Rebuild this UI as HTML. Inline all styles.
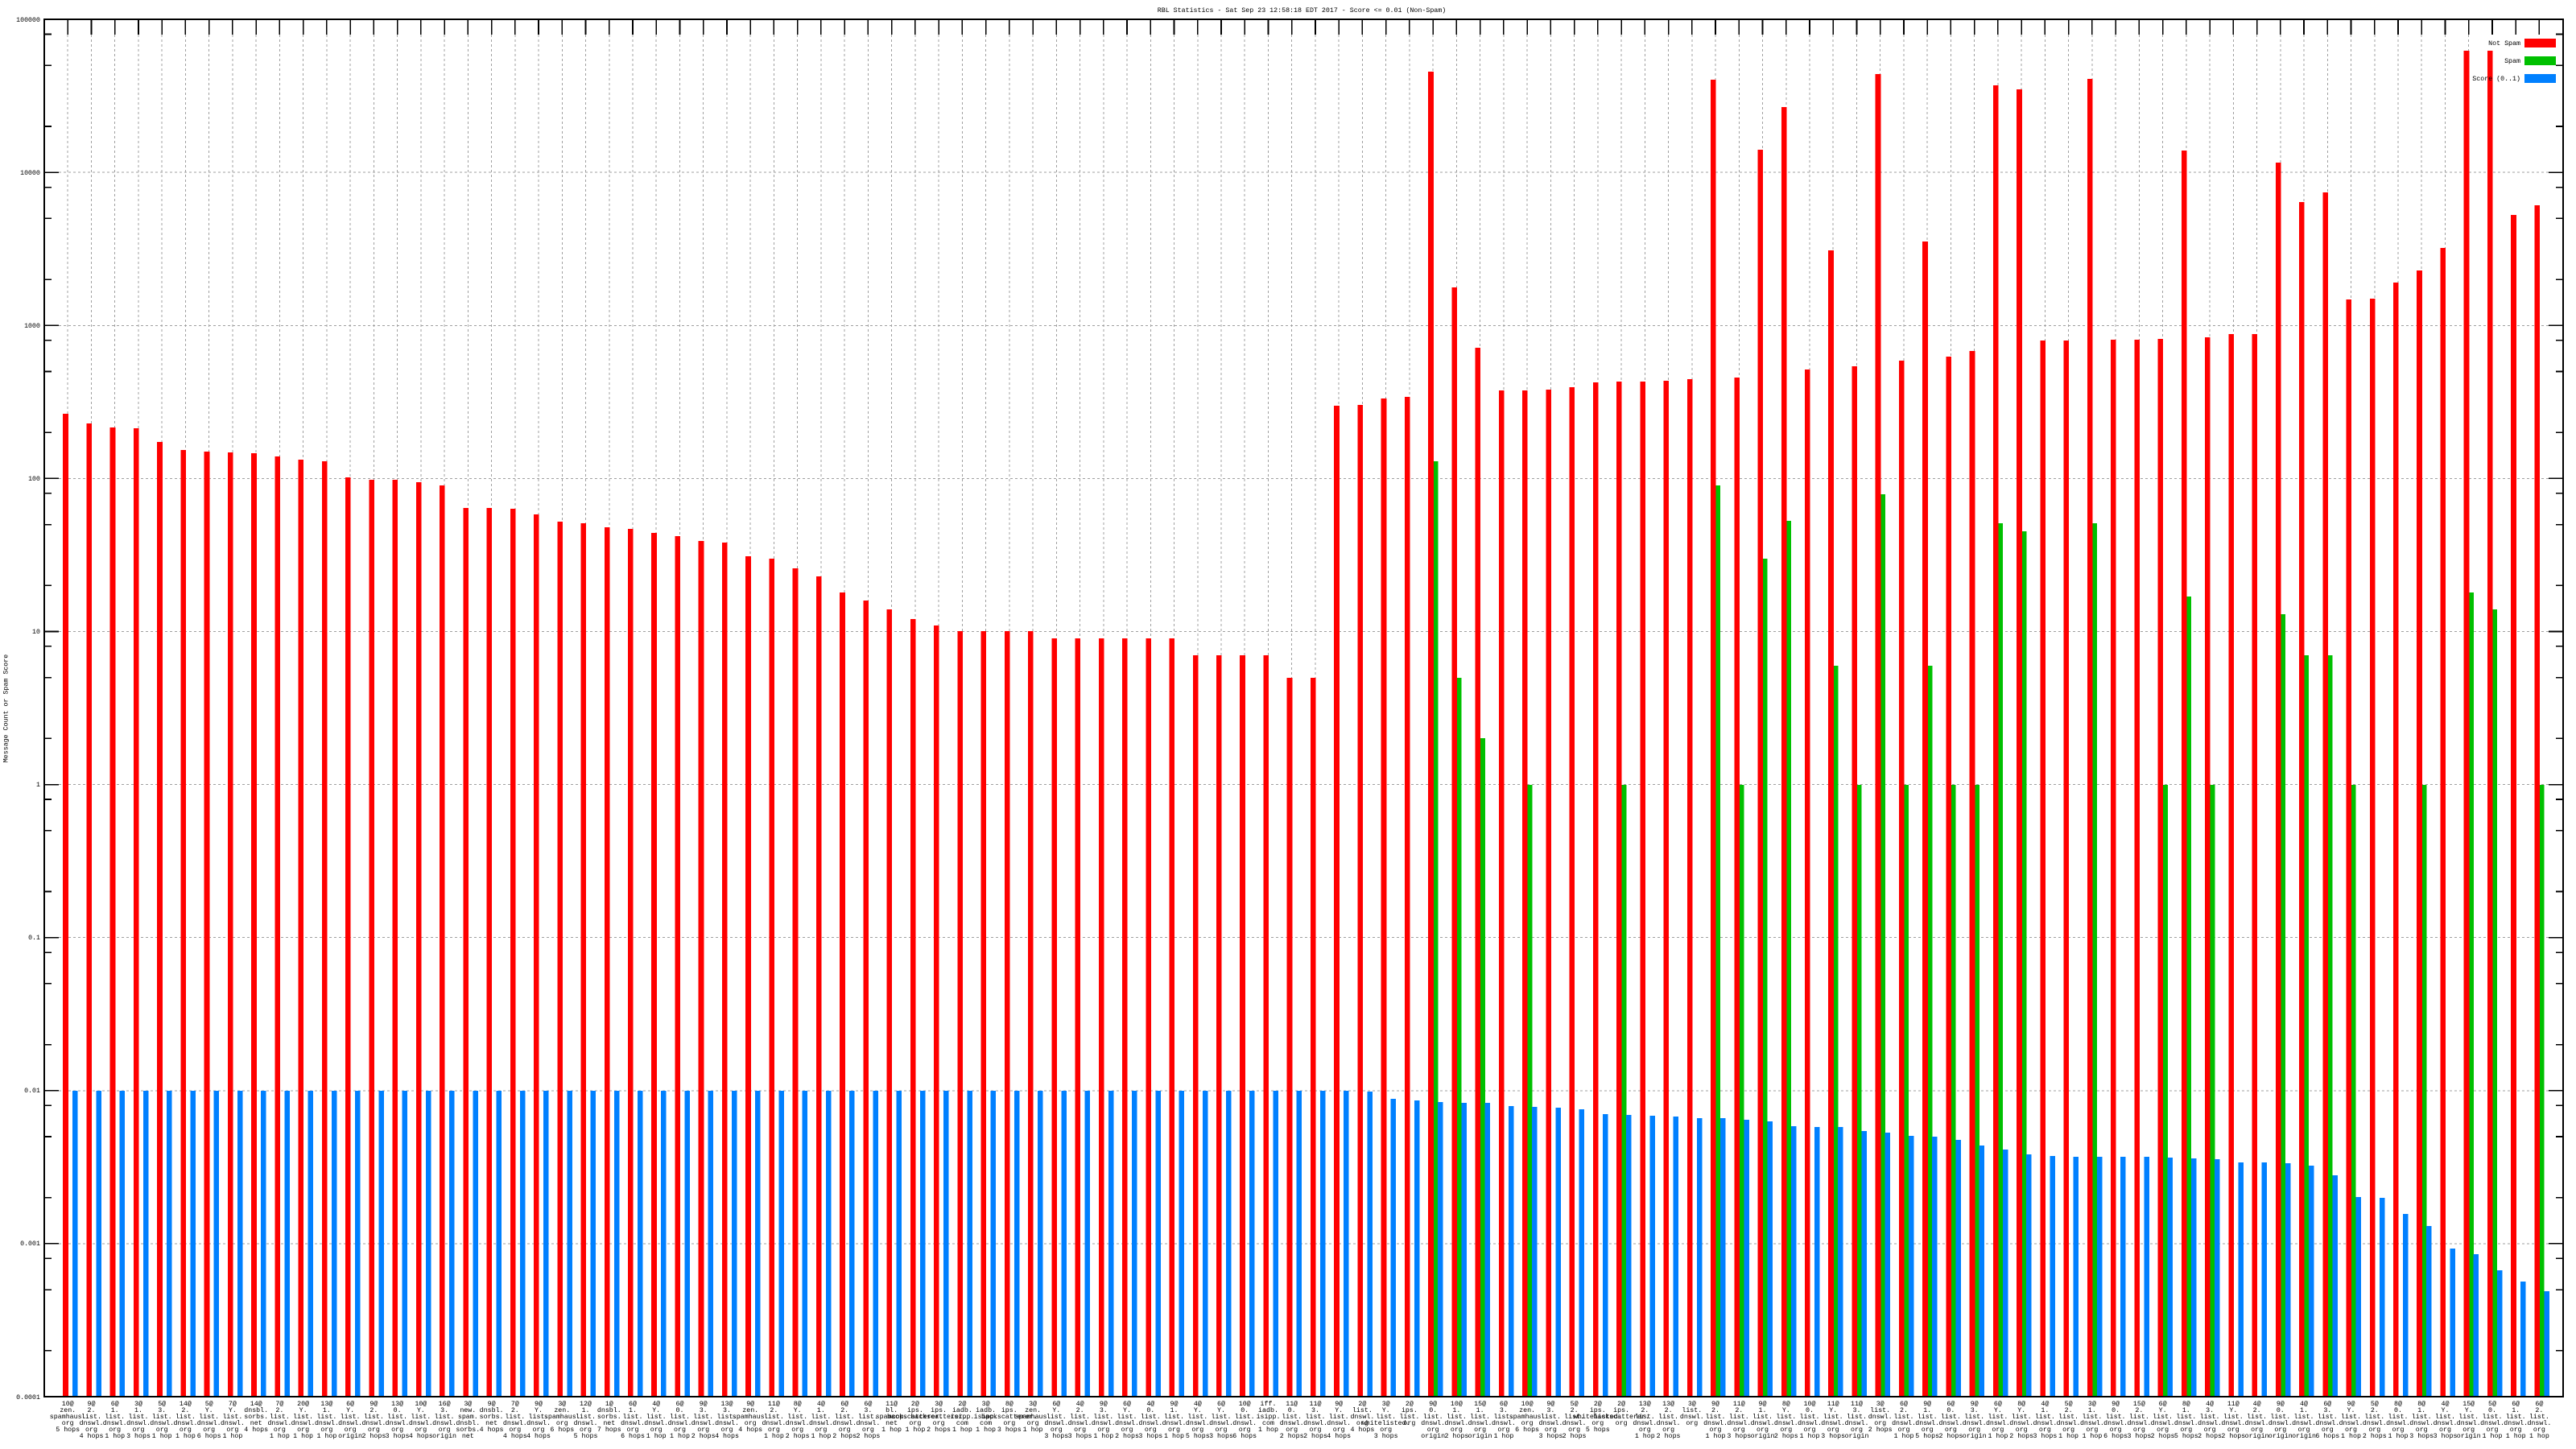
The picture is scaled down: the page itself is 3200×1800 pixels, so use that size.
<!DOCTYPE html>
<html><head><meta charset="utf-8"><style>
html,body{margin:0;padding:0;background:#fff}
svg{display:block}
text{font-family:"Liberation Mono","DejaVu Sans Mono",monospace;font-size:8.3px;fill:#000}
.l{text-anchor:middle}
.yt{text-anchor:end}
</style></head><body>
<svg width="3200" height="1800" viewBox="0 0 3200 1800" xmlns="http://www.w3.org/2000/svg" shape-rendering="crispEdges">
<rect width="3200" height="1800" fill="#fff"/>
<!-- grid -->
<path stroke="#a0a0a0" stroke-width="1" stroke-dasharray="3 3" fill="none" d="M73 214.2H3166M73 404.3H3166M73 594.4H3166M73 784.5H3166M73 974.6H3166M73 1164.7H3166M73 1354.8H3166M73 1544.9H3166"/>
<path stroke="#a0a0a0" stroke-width="1" stroke-dasharray="3 3" fill="none" d="M84.24 43V1735m29.24 -1692V1735m29.24 -1692V1735m29.24 -1692V1735m29.24 -1692V1735m29.24 -1692V1735m29.24 -1692V1735m29.24 -1692V1735m29.24 -1692V1735m29.24 -1692V1735m29.24 -1692V1735m29.24 -1692V1735m29.24 -1692V1735m29.24 -1692V1735m29.24 -1692V1735m29.24 -1692V1735m29.24 -1692V1735m29.24 -1692V1735m29.24 -1692V1735m29.24 -1692V1735m29.24 -1692V1735m29.24 -1692V1735m29.24 -1692V1735m29.24 -1692V1735m29.24 -1692V1735m29.24 -1692V1735m29.24 -1692V1735m29.24 -1692V1735m29.24 -1692V1735m29.24 -1692V1735m29.24 -1692V1735m29.24 -1692V1735m29.24 -1692V1735m29.24 -1692V1735m29.24 -1692V1735m29.24 -1692V1735m29.24 -1692V1735m29.24 -1692V1735m29.24 -1692V1735m29.24 -1692V1735m29.24 -1692V1735m29.24 -1692V1735m29.24 -1692V1735m29.24 -1692V1735m29.24 -1692V1735m29.24 -1692V1735m29.24 -1692V1735m29.24 -1692V1735m29.24 -1692V1735m29.24 -1692V1735m29.24 -1692V1735m29.24 -1692V1735m29.24 -1692V1735m29.24 -1692V1735m29.24 -1692V1735m29.24 -1692V1735m29.24 -1692V1735m29.24 -1692V1735m29.24 -1692V1735m29.24 -1692V1735m29.24 -1692V1735m29.24 -1692V1735m29.24 -1692V1735m29.24 -1692V1735m29.24 -1692V1735m29.24 -1692V1735m29.24 -1692V1735m29.24 -1692V1735m29.24 -1692V1735m29.24 -1692V1735m29.24 -1692V1735m29.24 -1692V1735m29.24 -1692V1735m29.24 -1692V1735m29.24 -1692V1735m29.24 -1692V1735m29.24 -1692V1735m29.24 -1692V1735m29.24 -1692V1735m29.24 -1692V1735m29.24 -1692V1735m29.24 -1692V1735m29.24 -1692V1735m29.24 -1692V1735m29.24 -1692V1735m29.24 -1692V1735m29.24 -1692V1735m29.24 -1692V1735m29.24 -1692V1735m29.24 -1692V1735m29.24 -1692V1735m29.24 -1692V1735m29.24 -1692V1735m29.24 -1692V1735m29.24 -1692V1735m29.24 -1692V1735m29.24 -1692V1735m29.24 -1692V1735m29.24 -1692V1735m29.24 -1692V1735m29.24 -1692V1735m29.24 -1692V1735m29.24 -1692V1735"/>
<!-- red bars -->
<path fill="#ff0000" d="M78.2 514h6.6V1735h-6.6zM107.5 526h6.6V1735h-6.6zM136.7 531h6.6V1735h-6.6zM166 532h6.6V1735h-6.6zM195.2 549h6.6V1735h-6.6zM224.4 559h6.6V1735h-6.6zM253.7 561h6.6V1735h-6.6zM282.9 562h6.6V1735h-6.6zM312.2 563h6.6V1735h-6.6zM341.4 567h6.6V1735h-6.6zM370.6 571h6.6V1735h-6.6zM399.9 573h6.6V1735h-6.6zM429.1 593h6.6V1735h-6.6zM458.4 596h6.6V1735h-6.6zM487.6 596h6.6V1735h-6.6zM516.8 599h6.6V1735h-6.6zM546.1 603h6.6V1735h-6.6zM575.3 631h6.6V1735h-6.6zM604.6 631h6.6V1735h-6.6zM633.8 632h6.6V1735h-6.6zM663 639h6.6V1735h-6.6zM692.3 648h6.6V1735h-6.6zM721.5 650h6.6V1735h-6.6zM750.8 655h6.6V1735h-6.6zM780 657h6.6V1735h-6.6zM809.2 662h6.6V1735h-6.6zM838.5 666h6.6V1735h-6.6zM867.7 672h6.6V1735h-6.6zM897 674h6.6V1735h-6.6zM926.2 691h6.6V1735h-6.6zM955.4 694h6.6V1735h-6.6zM984.7 706h6.6V1735h-6.6zM1013.9 716h6.6V1735h-6.6zM1043.2 736h6.6V1735h-6.6zM1072.4 746h6.6V1735h-6.6zM1101.6 757h6.6V1735h-6.6zM1130.9 769h6.6V1735h-6.6zM1160.1 777h6.6V1735h-6.6zM1189.4 784h6.6V1735h-6.6zM1218.6 784h6.6V1735h-6.6zM1247.8 784h6.6V1735h-6.6zM1277.1 784h6.6V1735h-6.6zM1306.3 793h6.6V1735h-6.6zM1335.6 793h6.6V1735h-6.6zM1364.8 793h6.6V1735h-6.6zM1394 793h6.6V1735h-6.6zM1423.3 793h6.6V1735h-6.6zM1452.5 793h6.6V1735h-6.6zM1481.8 814h6.6V1735h-6.6zM1511 814h6.6V1735h-6.6zM1540.2 814h6.6V1735h-6.6zM1569.5 814h6.6V1735h-6.6zM1598.7 842h6.6V1735h-6.6zM1628 842h6.6V1735h-6.6zM1657.2 504h6.6V1735h-6.6zM1686.4 503h6.6V1735h-6.6zM1715.7 495h6.6V1735h-6.6zM1744.9 493h6.6V1735h-6.6zM1774.2 89h6.6V1735h-6.6zM1803.4 357h6.6V1735h-6.6zM1832.6 432h6.6V1735h-6.6zM1861.9 485h6.6V1735h-6.6zM1891.1 485h6.6V1735h-6.6zM1920.4 484h6.6V1735h-6.6zM1949.6 481h6.6V1735h-6.6zM1978.8 475h6.6V1735h-6.6zM2008.1 474h6.6V1735h-6.6zM2037.3 474h6.6V1735h-6.6zM2066.6 473h6.6V1735h-6.6zM2095.8 471h6.6V1735h-6.6zM2125 99h6.6V1735h-6.6zM2154.3 469h6.6V1735h-6.6zM2183.5 186h6.6V1735h-6.6zM2212.8 133h6.6V1735h-6.6zM2242 459h6.6V1735h-6.6zM2271.2 311h6.6V1735h-6.6zM2300.5 455h6.6V1735h-6.6zM2329.7 92h6.6V1735h-6.6zM2359 448h6.6V1735h-6.6zM2388.2 300h6.6V1735h-6.6zM2417.4 443h6.6V1735h-6.6zM2446.7 436h6.6V1735h-6.6zM2475.9 106h6.6V1735h-6.6zM2505.2 111h6.6V1735h-6.6zM2534.4 423h6.6V1735h-6.6zM2563.6 423h6.6V1735h-6.6zM2592.9 98h6.6V1735h-6.6zM2622.1 422h6.6V1735h-6.6zM2651.4 422h6.6V1735h-6.6zM2680.6 421h6.6V1735h-6.6zM2709.8 187h6.6V1735h-6.6zM2739.1 419h6.6V1735h-6.6zM2768.3 415h6.6V1735h-6.6zM2797.6 415h6.6V1735h-6.6zM2826.8 202h6.6V1735h-6.6zM2856 251h6.6V1735h-6.6zM2885.3 239h6.6V1735h-6.6zM2914.5 372h6.6V1735h-6.6zM2943.8 371h6.6V1735h-6.6zM2973 351h6.6V1735h-6.6zM3002.2 336h6.6V1735h-6.6zM3031.5 308h6.6V1735h-6.6zM3060.7 63h6.6V1735h-6.6zM3090 63h6.6V1735h-6.6zM3119.2 267h6.6V1735h-6.6zM3148.4 255h6.6V1735h-6.6z"/>
<!-- green bars -->
<path fill="#00c000" d="M1780.8 573h5.6V1735h-5.6zM1810 842h5.6V1735h-5.6zM1839.2 917h5.6V1735h-5.6zM1897.7 975h5.6V1735h-5.6zM2014.7 975h5.6V1735h-5.6zM2131.6 603h5.6V1735h-5.6zM2160.9 975h5.6V1735h-5.6zM2190.1 694h5.6V1735h-5.6zM2219.4 647h5.6V1735h-5.6zM2277.8 827h5.6V1735h-5.6zM2307.1 975h5.6V1735h-5.6zM2336.3 614h5.6V1735h-5.6zM2365.6 975h5.6V1735h-5.6zM2394.8 827h5.6V1735h-5.6zM2424 975h5.6V1735h-5.6zM2453.3 975h5.6V1735h-5.6zM2482.5 650h5.6V1735h-5.6zM2511.8 660h5.6V1735h-5.6zM2599.5 650h5.6V1735h-5.6zM2687.2 975h5.6V1735h-5.6zM2716.4 741h5.6V1735h-5.6zM2745.7 975h5.6V1735h-5.6zM2833.4 763h5.6V1735h-5.6zM2862.6 814h5.6V1735h-5.6zM2891.9 814h5.6V1735h-5.6zM2921.1 975h5.6V1735h-5.6zM3008.8 975h5.6V1735h-5.6zM3067.3 736h5.6V1735h-5.6zM3096.6 757h5.6V1735h-5.6zM3155 975h5.6V1735h-5.6z"/>
<!-- blue bars -->
<path fill="#0080ff" d="M90.2 1355h6.5V1735h-6.5zM119.5 1355h6.5V1735h-6.5zM148.7 1355h6.5V1735h-6.5zM178 1355h6.5V1735h-6.5zM207.2 1355h6.5V1735h-6.5zM236.4 1355h6.5V1735h-6.5zM265.7 1355h6.5V1735h-6.5zM294.9 1355h6.5V1735h-6.5zM324.2 1355h6.5V1735h-6.5zM353.4 1355h6.5V1735h-6.5zM382.6 1355h6.5V1735h-6.5zM411.9 1355h6.5V1735h-6.5zM441.1 1355h6.5V1735h-6.5zM470.4 1355h6.5V1735h-6.5zM499.6 1355h6.5V1735h-6.5zM528.8 1355h6.5V1735h-6.5zM558.1 1355h6.5V1735h-6.5zM587.3 1355h6.5V1735h-6.5zM616.6 1355h6.5V1735h-6.5zM645.8 1355h6.5V1735h-6.5zM675 1355h6.5V1735h-6.5zM704.3 1355h6.5V1735h-6.5zM733.5 1355h6.5V1735h-6.5zM762.8 1355h6.5V1735h-6.5zM792 1355h6.5V1735h-6.5zM821.2 1355h6.5V1735h-6.5zM850.5 1355h6.5V1735h-6.5zM879.7 1355h6.5V1735h-6.5zM909 1355h6.5V1735h-6.5zM938.2 1355h6.5V1735h-6.5zM967.4 1355h6.5V1735h-6.5zM996.7 1355h6.5V1735h-6.5zM1025.9 1355h6.5V1735h-6.5zM1055.2 1355h6.5V1735h-6.5zM1084.4 1355h6.5V1735h-6.5zM1113.6 1355h6.5V1735h-6.5zM1142.9 1355h6.5V1735h-6.5zM1172.1 1355h6.5V1735h-6.5zM1201.4 1355h6.5V1735h-6.5zM1230.6 1355h6.5V1735h-6.5zM1259.8 1355h6.5V1735h-6.5zM1289.1 1355h6.5V1735h-6.5zM1318.3 1355h6.5V1735h-6.5zM1347.6 1355h6.5V1735h-6.5zM1376.8 1355h6.5V1735h-6.5zM1406 1355h6.5V1735h-6.5zM1435.3 1355h6.5V1735h-6.5zM1464.5 1355h6.5V1735h-6.5zM1493.8 1355h6.5V1735h-6.5zM1523 1355h6.5V1735h-6.5zM1552.2 1355h6.5V1735h-6.5zM1581.5 1355h6.5V1735h-6.5zM1610.7 1355h6.5V1735h-6.5zM1640 1355h6.5V1735h-6.5zM1669.2 1355h6.5V1735h-6.5zM1698.4 1356h6.5V1735h-6.5zM1727.7 1365h6.5V1735h-6.5zM1756.9 1367h6.5V1735h-6.5zM1786.2 1369h6.5V1735h-6.5zM1815.4 1370h6.5V1735h-6.5zM1844.6 1370h6.5V1735h-6.5zM1873.9 1374h6.5V1735h-6.5zM1903.1 1375h6.5V1735h-6.5zM1932.4 1376h6.5V1735h-6.5zM1961.6 1378h6.5V1735h-6.5zM1990.8 1384h6.5V1735h-6.5zM2020.1 1385h6.5V1735h-6.5zM2049.3 1386h6.5V1735h-6.5zM2078.6 1387h6.5V1735h-6.5zM2107.8 1389h6.5V1735h-6.5zM2137 1389h6.5V1735h-6.5zM2166.3 1391h6.5V1735h-6.5zM2195.5 1393h6.5V1735h-6.5zM2224.8 1399h6.5V1735h-6.5zM2254 1400h6.5V1735h-6.5zM2283.2 1400h6.5V1735h-6.5zM2312.5 1405h6.5V1735h-6.5zM2341.7 1407h6.5V1735h-6.5zM2371 1411h6.5V1735h-6.5zM2400.2 1412h6.5V1735h-6.5zM2429.4 1416h6.5V1735h-6.5zM2458.7 1423h6.5V1735h-6.5zM2487.9 1428h6.5V1735h-6.5zM2517.2 1434h6.5V1735h-6.5zM2546.4 1436h6.5V1735h-6.5zM2575.6 1437h6.5V1735h-6.5zM2604.9 1437h6.5V1735h-6.5zM2634.1 1437h6.5V1735h-6.5zM2663.4 1437h6.5V1735h-6.5zM2692.6 1438h6.5V1735h-6.5zM2721.8 1439h6.5V1735h-6.5zM2751.1 1440h6.5V1735h-6.5zM2780.3 1444h6.5V1735h-6.5zM2809.6 1444h6.5V1735h-6.5zM2838.8 1445h6.5V1735h-6.5zM2868 1448h6.5V1735h-6.5zM2897.3 1460h6.5V1735h-6.5zM2926.5 1487h6.5V1735h-6.5zM2955.8 1488h6.5V1735h-6.5zM2985 1508h6.5V1735h-6.5zM3014.2 1523h6.5V1735h-6.5zM3043.5 1551h6.5V1735h-6.5zM3072.7 1558h6.5V1735h-6.5zM3102 1578h6.5V1735h-6.5zM3131.2 1592h6.5V1735h-6.5zM3160.4 1604h6.5V1735h-6.5z"/>
<!-- axes border and ticks -->
<rect x="55" y="24" width="3129" height="1711" fill="none" stroke="#000" stroke-width="1.6"/>
<path stroke="#000" stroke-width="1.6" fill="none" d="M84.24 24v19m29.24 -19v19m29.24 -19v19m29.24 -19v19m29.24 -19v19m29.24 -19v19m29.24 -19v19m29.24 -19v19m29.24 -19v19m29.24 -19v19m29.24 -19v19m29.24 -19v19m29.24 -19v19m29.24 -19v19m29.24 -19v19m29.24 -19v19m29.24 -19v19m29.24 -19v19m29.24 -19v19m29.24 -19v19m29.24 -19v19m29.24 -19v19m29.24 -19v19m29.24 -19v19m29.24 -19v19m29.24 -19v19m29.24 -19v19m29.24 -19v19m29.24 -19v19m29.24 -19v19m29.24 -19v19m29.24 -19v19m29.24 -19v19m29.24 -19v19m29.24 -19v19m29.24 -19v19m29.24 -19v19m29.24 -19v19m29.24 -19v19m29.24 -19v19m29.24 -19v19m29.24 -19v19m29.24 -19v19m29.24 -19v19m29.24 -19v19m29.24 -19v19m29.24 -19v19m29.24 -19v19m29.24 -19v19m29.24 -19v19m29.24 -19v19m29.24 -19v19m29.24 -19v19m29.24 -19v19m29.24 -19v19m29.24 -19v19m29.24 -19v19m29.24 -19v19m29.24 -19v19m29.24 -19v19m29.24 -19v19m29.24 -19v19m29.24 -19v19m29.24 -19v19m29.24 -19v19m29.24 -19v19m29.24 -19v19m29.24 -19v19m29.24 -19v19m29.24 -19v19m29.24 -19v19m29.24 -19v19m29.24 -19v19m29.24 -19v19m29.24 -19v19m29.24 -19v19m29.24 -19v19m29.24 -19v19m29.24 -19v19m29.24 -19v19m29.24 -19v19m29.24 -19v19m29.24 -19v19m29.24 -19v19m29.24 -19v19m29.24 -19v19m29.24 -19v19m29.24 -19v19m29.24 -19v19m29.24 -19v19m29.24 -19v19m29.24 -19v19m29.24 -19v19m29.24 -19v19m29.24 -19v19m29.24 -19v19m29.24 -19v19m29.24 -19v19m29.24 -19v19m29.24 -19v19m29.24 -19v19m29.24 -19v19m29.24 -19v19m29.24 -19v19m29.24 -19v19m29.24 -19v19"/>
<path stroke="#000" stroke-width="1.6" fill="none" d="M55 214.2h18M55 404.3h18M55 594.4h18M55 784.5h18M55 974.6h18M55 1164.7h18M55 1354.8h18M55 1544.9h18
M3184 214.2h-18M3184 404.3h-18M3184 594.4h-18M3184 784.5h-18M3184 974.6h-18M3184 1164.7h-18M3184 1354.8h-18M3184 1544.9h-18
M55 1677.8h9M55 1602.1h9M55 1563.3h9M55 1487.7h9M55 1412h9M55 1373.2h9M55 1297.6h9M55 1221.9h9M55 1183.1h9M55 1107.5h9M55 1031.8h9M55 993h9M55 917.4h9M55 841.7h9M55 802.9h9M55 727.3h9M55 651.6h9M55 612.8h9M55 537.2h9M55 461.5h9M55 422.7h9M55 347.1h9M55 271.4h9M55 232.6h9M55 157h9M55 81.3h9M55 42.5h9
M3184 1677.8h-9M3184 1602.1h-9M3184 1563.3h-9M3184 1487.7h-9M3184 1412h-9M3184 1373.2h-9M3184 1297.6h-9M3184 1221.9h-9M3184 1183.1h-9M3184 1107.5h-9M3184 1031.8h-9M3184 993h-9M3184 917.4h-9M3184 841.7h-9M3184 802.9h-9M3184 727.3h-9M3184 651.6h-9M3184 612.8h-9M3184 537.2h-9M3184 461.5h-9M3184 422.7h-9M3184 347.1h-9M3184 271.4h-9M3184 232.6h-9M3184 157h-9M3184 81.3h-9M3184 42.5h-9"/>
<!-- y tick labels -->
<text class="yt" x="50" y="27">100000</text>
<text class="yt" x="50" y="217">10000</text>
<text class="yt" x="50" y="407">1000</text>
<text class="yt" x="50" y="597">100</text>
<text class="yt" x="50" y="787">10</text>
<text class="yt" x="50" y="977">1</text>
<text class="yt" x="50" y="1167">0.1</text>
<text class="yt" x="50" y="1357">0.01</text>
<text class="yt" x="50" y="1547">0.001</text>
<text class="yt" x="50" y="1738">0.0001</text>
<!-- title & axis label -->
<text x="1617" y="15" text-anchor="middle">RBL Statistics - Sat Sep 23 12:58:18 EDT 2017 - Score &lt;= 0.01 (Non-Spam)</text>
<text transform="translate(9.5,880) rotate(-90)" text-anchor="middle">Message Count or Spam Score</text>
<!-- legend -->
<text class="yt" x="3131" y="56">Not Spam</text>
<text class="yt" x="3131" y="78">Spam</text>
<text class="yt" x="3131" y="100">Score (0..1)</text>
<rect x="3136" y="48" width="39" height="11" fill="#ff0000"/>
<rect x="3136" y="70" width="39" height="11" fill="#00c000"/>
<rect x="3136" y="92" width="39" height="11" fill="#0080ff"/>
<!-- x labels -->
<g class="l">
<text class="l" x="84.2" y="1746">10@<tspan x="84.2" dy="8">zen.</tspan><tspan x="84.2" dy="8">spamhaus.</tspan><tspan x="84.2" dy="8">org</tspan><tspan x="84.2" dy="8">5 hops</tspan></text>
<text class="l" x="113.5" y="1746">9@<tspan x="113.5" dy="8">2.</tspan><tspan x="113.5" dy="8">list.</tspan><tspan x="113.5" dy="8">dnswl.</tspan><tspan x="113.5" dy="8">org</tspan><tspan x="113.5" dy="8">4 hops</tspan></text>
<text class="l" x="142.7" y="1746">6@<tspan x="142.7" dy="8">1.</tspan><tspan x="142.7" dy="8">list.</tspan><tspan x="142.7" dy="8">dnswl.</tspan><tspan x="142.7" dy="8">org</tspan><tspan x="142.7" dy="8">1 hop</tspan></text>
<text class="l" x="172" y="1746">3@<tspan x="172" dy="8">1.</tspan><tspan x="172" dy="8">list.</tspan><tspan x="172" dy="8">dnswl.</tspan><tspan x="172" dy="8">org</tspan><tspan x="172" dy="8">3 hops</tspan></text>
<text class="l" x="201.2" y="1746">5@<tspan x="201.2" dy="8">3.</tspan><tspan x="201.2" dy="8">list.</tspan><tspan x="201.2" dy="8">dnswl.</tspan><tspan x="201.2" dy="8">org</tspan><tspan x="201.2" dy="8">1 hop</tspan></text>
<text class="l" x="230.4" y="1746">14@<tspan x="230.4" dy="8">2.</tspan><tspan x="230.4" dy="8">list.</tspan><tspan x="230.4" dy="8">dnswl.</tspan><tspan x="230.4" dy="8">org</tspan><tspan x="230.4" dy="8">1 hop</tspan></text>
<text class="l" x="259.7" y="1746">5@<tspan x="259.7" dy="8">Y.</tspan><tspan x="259.7" dy="8">list.</tspan><tspan x="259.7" dy="8">dnswl.</tspan><tspan x="259.7" dy="8">org</tspan><tspan x="259.7" dy="8">6 hops</tspan></text>
<text class="l" x="288.9" y="1746">7@<tspan x="288.9" dy="8">Y.</tspan><tspan x="288.9" dy="8">list.</tspan><tspan x="288.9" dy="8">dnswl.</tspan><tspan x="288.9" dy="8">org</tspan><tspan x="288.9" dy="8">1 hop</tspan></text>
<text class="l" x="318.2" y="1746">14@<tspan x="318.2" dy="8">dnsbl.</tspan><tspan x="318.2" dy="8">sorbs.</tspan><tspan x="318.2" dy="8">net</tspan><tspan x="318.2" dy="8">4 hops</tspan></text>
<text class="l" x="347.4" y="1746">7@<tspan x="347.4" dy="8">2.</tspan><tspan x="347.4" dy="8">list.</tspan><tspan x="347.4" dy="8">dnswl.</tspan><tspan x="347.4" dy="8">org</tspan><tspan x="347.4" dy="8">1 hop</tspan></text>
<text class="l" x="376.6" y="1746">20@<tspan x="376.6" dy="8">Y.</tspan><tspan x="376.6" dy="8">list.</tspan><tspan x="376.6" dy="8">dnswl.</tspan><tspan x="376.6" dy="8">org</tspan><tspan x="376.6" dy="8">1 hop</tspan></text>
<text class="l" x="405.9" y="1746">13@<tspan x="405.9" dy="8">1.</tspan><tspan x="405.9" dy="8">list.</tspan><tspan x="405.9" dy="8">dnswl.</tspan><tspan x="405.9" dy="8">org</tspan><tspan x="405.9" dy="8">1 hop</tspan></text>
<text class="l" x="435.1" y="1746">6@<tspan x="435.1" dy="8">Y.</tspan><tspan x="435.1" dy="8">list.</tspan><tspan x="435.1" dy="8">dnswl.</tspan><tspan x="435.1" dy="8">org</tspan><tspan x="435.1" dy="8">origin</tspan></text>
<text class="l" x="464.4" y="1746">9@<tspan x="464.4" dy="8">2.</tspan><tspan x="464.4" dy="8">list.</tspan><tspan x="464.4" dy="8">dnswl.</tspan><tspan x="464.4" dy="8">org</tspan><tspan x="464.4" dy="8">2 hops</tspan></text>
<text class="l" x="493.6" y="1746">13@<tspan x="493.6" dy="8">0.</tspan><tspan x="493.6" dy="8">list.</tspan><tspan x="493.6" dy="8">dnswl.</tspan><tspan x="493.6" dy="8">org</tspan><tspan x="493.6" dy="8">3 hops</tspan></text>
<text class="l" x="522.8" y="1746">10@<tspan x="522.8" dy="8">Y.</tspan><tspan x="522.8" dy="8">list.</tspan><tspan x="522.8" dy="8">dnswl.</tspan><tspan x="522.8" dy="8">org</tspan><tspan x="522.8" dy="8">4 hops</tspan></text>
<text class="l" x="552.1" y="1746">16@<tspan x="552.1" dy="8">3.</tspan><tspan x="552.1" dy="8">list.</tspan><tspan x="552.1" dy="8">dnswl.</tspan><tspan x="552.1" dy="8">org</tspan><tspan x="552.1" dy="8">origin</tspan></text>
<text class="l" x="581.3" y="1746">3@<tspan x="581.3" dy="8">new.</tspan><tspan x="581.3" dy="8">spam.</tspan><tspan x="581.3" dy="8">dnsbl.</tspan><tspan x="581.3" dy="8">sorbs.</tspan><tspan x="581.3" dy="8">net</tspan></text>
<text class="l" x="610.6" y="1746">9@<tspan x="610.6" dy="8">dnsbl.</tspan><tspan x="610.6" dy="8">sorbs.</tspan><tspan x="610.6" dy="8">net</tspan><tspan x="610.6" dy="8">4 hops</tspan></text>
<text class="l" x="639.8" y="1746">7@<tspan x="639.8" dy="8">2.</tspan><tspan x="639.8" dy="8">list.</tspan><tspan x="639.8" dy="8">dnswl.</tspan><tspan x="639.8" dy="8">org</tspan><tspan x="639.8" dy="8">4 hops</tspan></text>
<text class="l" x="669" y="1746">9@<tspan x="669" dy="8">Y.</tspan><tspan x="669" dy="8">list.</tspan><tspan x="669" dy="8">dnswl.</tspan><tspan x="669" dy="8">org</tspan><tspan x="669" dy="8">4 hops</tspan></text>
<text class="l" x="698.3" y="1746">3@<tspan x="698.3" dy="8">zen.</tspan><tspan x="698.3" dy="8">spamhaus.</tspan><tspan x="698.3" dy="8">org</tspan><tspan x="698.3" dy="8">6 hops</tspan></text>
<text class="l" x="727.5" y="1746">12@<tspan x="727.5" dy="8">1.</tspan><tspan x="727.5" dy="8">list.</tspan><tspan x="727.5" dy="8">dnswl.</tspan><tspan x="727.5" dy="8">org</tspan><tspan x="727.5" dy="8">5 hops</tspan></text>
<text class="l" x="756.8" y="1746">1@<tspan x="756.8" dy="8">dnsbl.</tspan><tspan x="756.8" dy="8">sorbs.</tspan><tspan x="756.8" dy="8">net</tspan><tspan x="756.8" dy="8">7 hops</tspan></text>
<text class="l" x="786" y="1746">6@<tspan x="786" dy="8">1.</tspan><tspan x="786" dy="8">list.</tspan><tspan x="786" dy="8">dnswl.</tspan><tspan x="786" dy="8">org</tspan><tspan x="786" dy="8">6 hops</tspan></text>
<text class="l" x="815.2" y="1746">4@<tspan x="815.2" dy="8">Y.</tspan><tspan x="815.2" dy="8">list.</tspan><tspan x="815.2" dy="8">dnswl.</tspan><tspan x="815.2" dy="8">org</tspan><tspan x="815.2" dy="8">1 hop</tspan></text>
<text class="l" x="844.5" y="1746">6@<tspan x="844.5" dy="8">0.</tspan><tspan x="844.5" dy="8">list.</tspan><tspan x="844.5" dy="8">dnswl.</tspan><tspan x="844.5" dy="8">org</tspan><tspan x="844.5" dy="8">1 hop</tspan></text>
<text class="l" x="873.7" y="1746">9@<tspan x="873.7" dy="8">3.</tspan><tspan x="873.7" dy="8">list.</tspan><tspan x="873.7" dy="8">dnswl.</tspan><tspan x="873.7" dy="8">org</tspan><tspan x="873.7" dy="8">2 hops</tspan></text>
<text class="l" x="903" y="1746">13@<tspan x="903" dy="8">3.</tspan><tspan x="903" dy="8">list.</tspan><tspan x="903" dy="8">dnswl.</tspan><tspan x="903" dy="8">org</tspan><tspan x="903" dy="8">4 hops</tspan></text>
<text class="l" x="932.2" y="1746">9@<tspan x="932.2" dy="8">zen.</tspan><tspan x="932.2" dy="8">spamhaus.</tspan><tspan x="932.2" dy="8">org</tspan><tspan x="932.2" dy="8">4 hops</tspan></text>
<text class="l" x="961.4" y="1746">11@<tspan x="961.4" dy="8">2.</tspan><tspan x="961.4" dy="8">list.</tspan><tspan x="961.4" dy="8">dnswl.</tspan><tspan x="961.4" dy="8">org</tspan><tspan x="961.4" dy="8">1 hop</tspan></text>
<text class="l" x="990.7" y="1746">8@<tspan x="990.7" dy="8">Y.</tspan><tspan x="990.7" dy="8">list.</tspan><tspan x="990.7" dy="8">dnswl.</tspan><tspan x="990.7" dy="8">org</tspan><tspan x="990.7" dy="8">2 hops</tspan></text>
<text class="l" x="1019.9" y="1746">4@<tspan x="1019.9" dy="8">1.</tspan><tspan x="1019.9" dy="8">list.</tspan><tspan x="1019.9" dy="8">dnswl.</tspan><tspan x="1019.9" dy="8">org</tspan><tspan x="1019.9" dy="8">1 hop</tspan></text>
<text class="l" x="1049.2" y="1746">6@<tspan x="1049.2" dy="8">2.</tspan><tspan x="1049.2" dy="8">list.</tspan><tspan x="1049.2" dy="8">dnswl.</tspan><tspan x="1049.2" dy="8">org</tspan><tspan x="1049.2" dy="8">2 hops</tspan></text>
<text class="l" x="1078.4" y="1746">6@<tspan x="1078.4" dy="8">3.</tspan><tspan x="1078.4" dy="8">list.</tspan><tspan x="1078.4" dy="8">dnswl.</tspan><tspan x="1078.4" dy="8">org</tspan><tspan x="1078.4" dy="8">2 hops</tspan></text>
<text class="l" x="1107.6" y="1746">11@<tspan x="1107.6" dy="8">bl.</tspan><tspan x="1107.6" dy="8">spamcop.</tspan><tspan x="1107.6" dy="8">net</tspan><tspan x="1107.6" dy="8">1 hop</tspan></text>
<text class="l" x="1136.9" y="1746">2@<tspan x="1136.9" dy="8">ips.</tspan><tspan x="1136.9" dy="8">backscatterer.</tspan><tspan x="1136.9" dy="8">org</tspan><tspan x="1136.9" dy="8">1 hop</tspan></text>
<text class="l" x="1166.1" y="1746">3@<tspan x="1166.1" dy="8">ips.</tspan><tspan x="1166.1" dy="8">backscatterer.</tspan><tspan x="1166.1" dy="8">org</tspan><tspan x="1166.1" dy="8">2 hops</tspan></text>
<text class="l" x="1195.4" y="1746">2@<tspan x="1195.4" dy="8">iadb.</tspan><tspan x="1195.4" dy="8">isipp.</tspan><tspan x="1195.4" dy="8">com</tspan><tspan x="1195.4" dy="8">1 hop</tspan></text>
<text class="l" x="1224.6" y="1746">3@<tspan x="1224.6" dy="8">iadb.</tspan><tspan x="1224.6" dy="8">isipp.</tspan><tspan x="1224.6" dy="8">com</tspan><tspan x="1224.6" dy="8">1 hop</tspan></text>
<text class="l" x="1253.8" y="1746">8@<tspan x="1253.8" dy="8">ips.</tspan><tspan x="1253.8" dy="8">backscatterer.</tspan><tspan x="1253.8" dy="8">org</tspan><tspan x="1253.8" dy="8">3 hops</tspan></text>
<text class="l" x="1283.1" y="1746">3@<tspan x="1283.1" dy="8">zen.</tspan><tspan x="1283.1" dy="8">spamhaus.</tspan><tspan x="1283.1" dy="8">org</tspan><tspan x="1283.1" dy="8">1 hop</tspan></text>
<text class="l" x="1312.3" y="1746">6@<tspan x="1312.3" dy="8">Y.</tspan><tspan x="1312.3" dy="8">list.</tspan><tspan x="1312.3" dy="8">dnswl.</tspan><tspan x="1312.3" dy="8">org</tspan><tspan x="1312.3" dy="8">3 hops</tspan></text>
<text class="l" x="1341.6" y="1746">4@<tspan x="1341.6" dy="8">2.</tspan><tspan x="1341.6" dy="8">list.</tspan><tspan x="1341.6" dy="8">dnswl.</tspan><tspan x="1341.6" dy="8">org</tspan><tspan x="1341.6" dy="8">3 hops</tspan></text>
<text class="l" x="1370.8" y="1746">9@<tspan x="1370.8" dy="8">3.</tspan><tspan x="1370.8" dy="8">list.</tspan><tspan x="1370.8" dy="8">dnswl.</tspan><tspan x="1370.8" dy="8">org</tspan><tspan x="1370.8" dy="8">1 hop</tspan></text>
<text class="l" x="1400" y="1746">6@<tspan x="1400" dy="8">Y.</tspan><tspan x="1400" dy="8">list.</tspan><tspan x="1400" dy="8">dnswl.</tspan><tspan x="1400" dy="8">org</tspan><tspan x="1400" dy="8">2 hops</tspan></text>
<text class="l" x="1429.3" y="1746">4@<tspan x="1429.3" dy="8">0.</tspan><tspan x="1429.3" dy="8">list.</tspan><tspan x="1429.3" dy="8">dnswl.</tspan><tspan x="1429.3" dy="8">org</tspan><tspan x="1429.3" dy="8">3 hops</tspan></text>
<text class="l" x="1458.5" y="1746">9@<tspan x="1458.5" dy="8">1.</tspan><tspan x="1458.5" dy="8">list.</tspan><tspan x="1458.5" dy="8">dnswl.</tspan><tspan x="1458.5" dy="8">org</tspan><tspan x="1458.5" dy="8">1 hop</tspan></text>
<text class="l" x="1487.8" y="1746">4@<tspan x="1487.8" dy="8">Y.</tspan><tspan x="1487.8" dy="8">list.</tspan><tspan x="1487.8" dy="8">dnswl.</tspan><tspan x="1487.8" dy="8">org</tspan><tspan x="1487.8" dy="8">5 hops</tspan></text>
<text class="l" x="1517" y="1746">6@<tspan x="1517" dy="8">Y.</tspan><tspan x="1517" dy="8">list.</tspan><tspan x="1517" dy="8">dnswl.</tspan><tspan x="1517" dy="8">org</tspan><tspan x="1517" dy="8">3 hops</tspan></text>
<text class="l" x="1546.2" y="1746">10@<tspan x="1546.2" dy="8">0.</tspan><tspan x="1546.2" dy="8">list.</tspan><tspan x="1546.2" dy="8">dnswl.</tspan><tspan x="1546.2" dy="8">org</tspan><tspan x="1546.2" dy="8">6 hops</tspan></text>
<text class="l" x="1575.5" y="1746">iff.<tspan x="1575.5" dy="8">iadb.</tspan><tspan x="1575.5" dy="8">isipp.</tspan><tspan x="1575.5" dy="8">com</tspan><tspan x="1575.5" dy="8">1 hop</tspan></text>
<text class="l" x="1604.7" y="1746">11@<tspan x="1604.7" dy="8">0.</tspan><tspan x="1604.7" dy="8">list.</tspan><tspan x="1604.7" dy="8">dnswl.</tspan><tspan x="1604.7" dy="8">org</tspan><tspan x="1604.7" dy="8">2 hops</tspan></text>
<text class="l" x="1634" y="1746">11@<tspan x="1634" dy="8">3.</tspan><tspan x="1634" dy="8">list.</tspan><tspan x="1634" dy="8">dnswl.</tspan><tspan x="1634" dy="8">org</tspan><tspan x="1634" dy="8">2 hops</tspan></text>
<text class="l" x="1663.2" y="1746">9@<tspan x="1663.2" dy="8">Y.</tspan><tspan x="1663.2" dy="8">list.</tspan><tspan x="1663.2" dy="8">dnswl.</tspan><tspan x="1663.2" dy="8">org</tspan><tspan x="1663.2" dy="8">4 hops</tspan></text>
<text class="l" x="1692.4" y="1746">2@<tspan x="1692.4" dy="8">list.</tspan><tspan x="1692.4" dy="8">dnswl.</tspan><tspan x="1692.4" dy="8">org</tspan><tspan x="1692.4" dy="8">4 hops</tspan></text>
<text class="l" x="1721.7" y="1746">3@<tspan x="1721.7" dy="8">Y.</tspan><tspan x="1721.7" dy="8">list.</tspan><tspan x="1721.7" dy="8">whitelisted.</tspan><tspan x="1721.7" dy="8">org</tspan><tspan x="1721.7" dy="8">3 hops</tspan></text>
<text class="l" x="1750.9" y="1746">2@<tspan x="1750.9" dy="8">ips.</tspan><tspan x="1750.9" dy="8">list.</tspan><tspan x="1750.9" dy="8">org</tspan></text>
<text class="l" x="1780.2" y="1746">9@<tspan x="1780.2" dy="8">0.</tspan><tspan x="1780.2" dy="8">list.</tspan><tspan x="1780.2" dy="8">dnswl.</tspan><tspan x="1780.2" dy="8">org</tspan><tspan x="1780.2" dy="8">origin</tspan></text>
<text class="l" x="1809.4" y="1746">10@<tspan x="1809.4" dy="8">1.</tspan><tspan x="1809.4" dy="8">list.</tspan><tspan x="1809.4" dy="8">dnswl.</tspan><tspan x="1809.4" dy="8">org</tspan><tspan x="1809.4" dy="8">2 hops</tspan></text>
<text class="l" x="1838.6" y="1746">15@<tspan x="1838.6" dy="8">1.</tspan><tspan x="1838.6" dy="8">list.</tspan><tspan x="1838.6" dy="8">dnswl.</tspan><tspan x="1838.6" dy="8">org</tspan><tspan x="1838.6" dy="8">origin</tspan></text>
<text class="l" x="1867.9" y="1746">6@<tspan x="1867.9" dy="8">3.</tspan><tspan x="1867.9" dy="8">list.</tspan><tspan x="1867.9" dy="8">dnswl.</tspan><tspan x="1867.9" dy="8">org</tspan><tspan x="1867.9" dy="8">1 hop</tspan></text>
<text class="l" x="1897.1" y="1746">10@<tspan x="1897.1" dy="8">zen.</tspan><tspan x="1897.1" dy="8">spamhaus.</tspan><tspan x="1897.1" dy="8">org</tspan><tspan x="1897.1" dy="8">6 hops</tspan></text>
<text class="l" x="1926.4" y="1746">9@<tspan x="1926.4" dy="8">3.</tspan><tspan x="1926.4" dy="8">list.</tspan><tspan x="1926.4" dy="8">dnswl.</tspan><tspan x="1926.4" dy="8">org</tspan><tspan x="1926.4" dy="8">3 hops</tspan></text>
<text class="l" x="1955.6" y="1746">5@<tspan x="1955.6" dy="8">2.</tspan><tspan x="1955.6" dy="8">list.</tspan><tspan x="1955.6" dy="8">dnswl.</tspan><tspan x="1955.6" dy="8">org</tspan><tspan x="1955.6" dy="8">2 hops</tspan></text>
<text class="l" x="1984.8" y="1746">2@<tspan x="1984.8" dy="8">ips.</tspan><tspan x="1984.8" dy="8">whitelisted.</tspan><tspan x="1984.8" dy="8">org</tspan><tspan x="1984.8" dy="8">5 hops</tspan></text>
<text class="l" x="2014.1" y="1746">2@<tspan x="2014.1" dy="8">ips.</tspan><tspan x="2014.1" dy="8">backscatterer.</tspan><tspan x="2014.1" dy="8">org</tspan></text>
<text class="l" x="2043.3" y="1746">13@<tspan x="2043.3" dy="8">2.</tspan><tspan x="2043.3" dy="8">list.</tspan><tspan x="2043.3" dy="8">dnswl.</tspan><tspan x="2043.3" dy="8">org</tspan><tspan x="2043.3" dy="8">1 hop</tspan></text>
<text class="l" x="2072.6" y="1746">13@<tspan x="2072.6" dy="8">2.</tspan><tspan x="2072.6" dy="8">list.</tspan><tspan x="2072.6" dy="8">dnswl.</tspan><tspan x="2072.6" dy="8">org</tspan><tspan x="2072.6" dy="8">2 hops</tspan></text>
<text class="l" x="2101.8" y="1746">3@<tspan x="2101.8" dy="8">list.</tspan><tspan x="2101.8" dy="8">dnswl.</tspan><tspan x="2101.8" dy="8">org</tspan></text>
<text class="l" x="2131" y="1746">9@<tspan x="2131" dy="8">2.</tspan><tspan x="2131" dy="8">list.</tspan><tspan x="2131" dy="8">dnswl.</tspan><tspan x="2131" dy="8">org</tspan><tspan x="2131" dy="8">1 hop</tspan></text>
<text class="l" x="2160.3" y="1746">11@<tspan x="2160.3" dy="8">2.</tspan><tspan x="2160.3" dy="8">list.</tspan><tspan x="2160.3" dy="8">dnswl.</tspan><tspan x="2160.3" dy="8">org</tspan><tspan x="2160.3" dy="8">3 hops</tspan></text>
<text class="l" x="2189.5" y="1746">9@<tspan x="2189.5" dy="8">1.</tspan><tspan x="2189.5" dy="8">list.</tspan><tspan x="2189.5" dy="8">dnswl.</tspan><tspan x="2189.5" dy="8">org</tspan><tspan x="2189.5" dy="8">origin</tspan></text>
<text class="l" x="2218.8" y="1746">8@<tspan x="2218.8" dy="8">Y.</tspan><tspan x="2218.8" dy="8">list.</tspan><tspan x="2218.8" dy="8">dnswl.</tspan><tspan x="2218.8" dy="8">org</tspan><tspan x="2218.8" dy="8">2 hops</tspan></text>
<text class="l" x="2248" y="1746">10@<tspan x="2248" dy="8">0.</tspan><tspan x="2248" dy="8">list.</tspan><tspan x="2248" dy="8">dnswl.</tspan><tspan x="2248" dy="8">org</tspan><tspan x="2248" dy="8">1 hop</tspan></text>
<text class="l" x="2277.2" y="1746">11@<tspan x="2277.2" dy="8">Y.</tspan><tspan x="2277.2" dy="8">list.</tspan><tspan x="2277.2" dy="8">dnswl.</tspan><tspan x="2277.2" dy="8">org</tspan><tspan x="2277.2" dy="8">3 hops</tspan></text>
<text class="l" x="2306.5" y="1746">11@<tspan x="2306.5" dy="8">3.</tspan><tspan x="2306.5" dy="8">list.</tspan><tspan x="2306.5" dy="8">dnswl.</tspan><tspan x="2306.5" dy="8">org</tspan><tspan x="2306.5" dy="8">origin</tspan></text>
<text class="l" x="2335.7" y="1746">3@<tspan x="2335.7" dy="8">list.</tspan><tspan x="2335.7" dy="8">dnswl.</tspan><tspan x="2335.7" dy="8">org</tspan><tspan x="2335.7" dy="8">2 hops</tspan></text>
<text class="l" x="2365" y="1746">6@<tspan x="2365" dy="8">2.</tspan><tspan x="2365" dy="8">list.</tspan><tspan x="2365" dy="8">dnswl.</tspan><tspan x="2365" dy="8">org</tspan><tspan x="2365" dy="8">1 hop</tspan></text>
<text class="l" x="2394.2" y="1746">9@<tspan x="2394.2" dy="8">1.</tspan><tspan x="2394.2" dy="8">list.</tspan><tspan x="2394.2" dy="8">dnswl.</tspan><tspan x="2394.2" dy="8">org</tspan><tspan x="2394.2" dy="8">5 hops</tspan></text>
<text class="l" x="2423.4" y="1746">6@<tspan x="2423.4" dy="8">0.</tspan><tspan x="2423.4" dy="8">list.</tspan><tspan x="2423.4" dy="8">dnswl.</tspan><tspan x="2423.4" dy="8">org</tspan><tspan x="2423.4" dy="8">2 hops</tspan></text>
<text class="l" x="2452.7" y="1746">9@<tspan x="2452.7" dy="8">3.</tspan><tspan x="2452.7" dy="8">list.</tspan><tspan x="2452.7" dy="8">dnswl.</tspan><tspan x="2452.7" dy="8">org</tspan><tspan x="2452.7" dy="8">origin</tspan></text>
<text class="l" x="2481.9" y="1746">6@<tspan x="2481.9" dy="8">Y.</tspan><tspan x="2481.9" dy="8">list.</tspan><tspan x="2481.9" dy="8">dnswl.</tspan><tspan x="2481.9" dy="8">org</tspan><tspan x="2481.9" dy="8">1 hop</tspan></text>
<text class="l" x="2511.2" y="1746">8@<tspan x="2511.2" dy="8">Y.</tspan><tspan x="2511.2" dy="8">list.</tspan><tspan x="2511.2" dy="8">dnswl.</tspan><tspan x="2511.2" dy="8">org</tspan><tspan x="2511.2" dy="8">2 hops</tspan></text>
<text class="l" x="2540.4" y="1746">4@<tspan x="2540.4" dy="8">1.</tspan><tspan x="2540.4" dy="8">list.</tspan><tspan x="2540.4" dy="8">dnswl.</tspan><tspan x="2540.4" dy="8">org</tspan><tspan x="2540.4" dy="8">3 hops</tspan></text>
<text class="l" x="2569.6" y="1746">5@<tspan x="2569.6" dy="8">2.</tspan><tspan x="2569.6" dy="8">list.</tspan><tspan x="2569.6" dy="8">dnswl.</tspan><tspan x="2569.6" dy="8">org</tspan><tspan x="2569.6" dy="8">1 hop</tspan></text>
<text class="l" x="2598.9" y="1746">3@<tspan x="2598.9" dy="8">1.</tspan><tspan x="2598.9" dy="8">list.</tspan><tspan x="2598.9" dy="8">dnswl.</tspan><tspan x="2598.9" dy="8">org</tspan><tspan x="2598.9" dy="8">1 hop</tspan></text>
<text class="l" x="2628.1" y="1746">9@<tspan x="2628.1" dy="8">0.</tspan><tspan x="2628.1" dy="8">list.</tspan><tspan x="2628.1" dy="8">dnswl.</tspan><tspan x="2628.1" dy="8">org</tspan><tspan x="2628.1" dy="8">6 hops</tspan></text>
<text class="l" x="2657.4" y="1746">15@<tspan x="2657.4" dy="8">2.</tspan><tspan x="2657.4" dy="8">list.</tspan><tspan x="2657.4" dy="8">dnswl.</tspan><tspan x="2657.4" dy="8">org</tspan><tspan x="2657.4" dy="8">3 hops</tspan></text>
<text class="l" x="2686.6" y="1746">6@<tspan x="2686.6" dy="8">Y.</tspan><tspan x="2686.6" dy="8">list.</tspan><tspan x="2686.6" dy="8">dnswl.</tspan><tspan x="2686.6" dy="8">org</tspan><tspan x="2686.6" dy="8">2 hops</tspan></text>
<text class="l" x="2715.8" y="1746">8@<tspan x="2715.8" dy="8">1.</tspan><tspan x="2715.8" dy="8">list.</tspan><tspan x="2715.8" dy="8">dnswl.</tspan><tspan x="2715.8" dy="8">org</tspan><tspan x="2715.8" dy="8">5 hops</tspan></text>
<text class="l" x="2745.1" y="1746">4@<tspan x="2745.1" dy="8">3.</tspan><tspan x="2745.1" dy="8">list.</tspan><tspan x="2745.1" dy="8">dnswl.</tspan><tspan x="2745.1" dy="8">org</tspan><tspan x="2745.1" dy="8">2 hops</tspan></text>
<text class="l" x="2774.3" y="1746">11@<tspan x="2774.3" dy="8">Y.</tspan><tspan x="2774.3" dy="8">list.</tspan><tspan x="2774.3" dy="8">dnswl.</tspan><tspan x="2774.3" dy="8">org</tspan><tspan x="2774.3" dy="8">2 hops</tspan></text>
<text class="l" x="2803.6" y="1746">4@<tspan x="2803.6" dy="8">2.</tspan><tspan x="2803.6" dy="8">list.</tspan><tspan x="2803.6" dy="8">dnswl.</tspan><tspan x="2803.6" dy="8">org</tspan><tspan x="2803.6" dy="8">origin</tspan></text>
<text class="l" x="2832.8" y="1746">9@<tspan x="2832.8" dy="8">0.</tspan><tspan x="2832.8" dy="8">list.</tspan><tspan x="2832.8" dy="8">dnswl.</tspan><tspan x="2832.8" dy="8">org</tspan><tspan x="2832.8" dy="8">origin</tspan></text>
<text class="l" x="2862" y="1746">4@<tspan x="2862" dy="8">1.</tspan><tspan x="2862" dy="8">list.</tspan><tspan x="2862" dy="8">dnswl.</tspan><tspan x="2862" dy="8">org</tspan><tspan x="2862" dy="8">origin</tspan></text>
<text class="l" x="2891.3" y="1746">6@<tspan x="2891.3" dy="8">3.</tspan><tspan x="2891.3" dy="8">list.</tspan><tspan x="2891.3" dy="8">dnswl.</tspan><tspan x="2891.3" dy="8">org</tspan><tspan x="2891.3" dy="8">6 hops</tspan></text>
<text class="l" x="2920.5" y="1746">9@<tspan x="2920.5" dy="8">Y.</tspan><tspan x="2920.5" dy="8">list.</tspan><tspan x="2920.5" dy="8">dnswl.</tspan><tspan x="2920.5" dy="8">org</tspan><tspan x="2920.5" dy="8">1 hop</tspan></text>
<text class="l" x="2949.8" y="1746">5@<tspan x="2949.8" dy="8">2.</tspan><tspan x="2949.8" dy="8">list.</tspan><tspan x="2949.8" dy="8">dnswl.</tspan><tspan x="2949.8" dy="8">org</tspan><tspan x="2949.8" dy="8">2 hops</tspan></text>
<text class="l" x="2979" y="1746">8@<tspan x="2979" dy="8">0.</tspan><tspan x="2979" dy="8">list.</tspan><tspan x="2979" dy="8">dnswl.</tspan><tspan x="2979" dy="8">org</tspan><tspan x="2979" dy="8">1 hop</tspan></text>
<text class="l" x="3008.2" y="1746">8@<tspan x="3008.2" dy="8">1.</tspan><tspan x="3008.2" dy="8">list.</tspan><tspan x="3008.2" dy="8">dnswl.</tspan><tspan x="3008.2" dy="8">org</tspan><tspan x="3008.2" dy="8">3 hops</tspan></text>
<text class="l" x="3037.5" y="1746">4@<tspan x="3037.5" dy="8">Y.</tspan><tspan x="3037.5" dy="8">list.</tspan><tspan x="3037.5" dy="8">dnswl.</tspan><tspan x="3037.5" dy="8">org</tspan><tspan x="3037.5" dy="8">3 hops</tspan></text>
<text class="l" x="3066.7" y="1746">15@<tspan x="3066.7" dy="8">Y.</tspan><tspan x="3066.7" dy="8">list.</tspan><tspan x="3066.7" dy="8">dnswl.</tspan><tspan x="3066.7" dy="8">org</tspan><tspan x="3066.7" dy="8">origin</tspan></text>
<text class="l" x="3096" y="1746">5@<tspan x="3096" dy="8">0.</tspan><tspan x="3096" dy="8">list.</tspan><tspan x="3096" dy="8">dnswl.</tspan><tspan x="3096" dy="8">org</tspan><tspan x="3096" dy="8">1 hop</tspan></text>
<text class="l" x="3125.2" y="1746">6@<tspan x="3125.2" dy="8">1.</tspan><tspan x="3125.2" dy="8">list.</tspan><tspan x="3125.2" dy="8">dnswl.</tspan><tspan x="3125.2" dy="8">org</tspan><tspan x="3125.2" dy="8">1 hop</tspan></text>
<text class="l" x="3154.4" y="1746">6@<tspan x="3154.4" dy="8">2.</tspan><tspan x="3154.4" dy="8">list.</tspan><tspan x="3154.4" dy="8">dnswl.</tspan><tspan x="3154.4" dy="8">org</tspan><tspan x="3154.4" dy="8">1 hop</tspan></text>
</g>
</svg>
</body></html>
